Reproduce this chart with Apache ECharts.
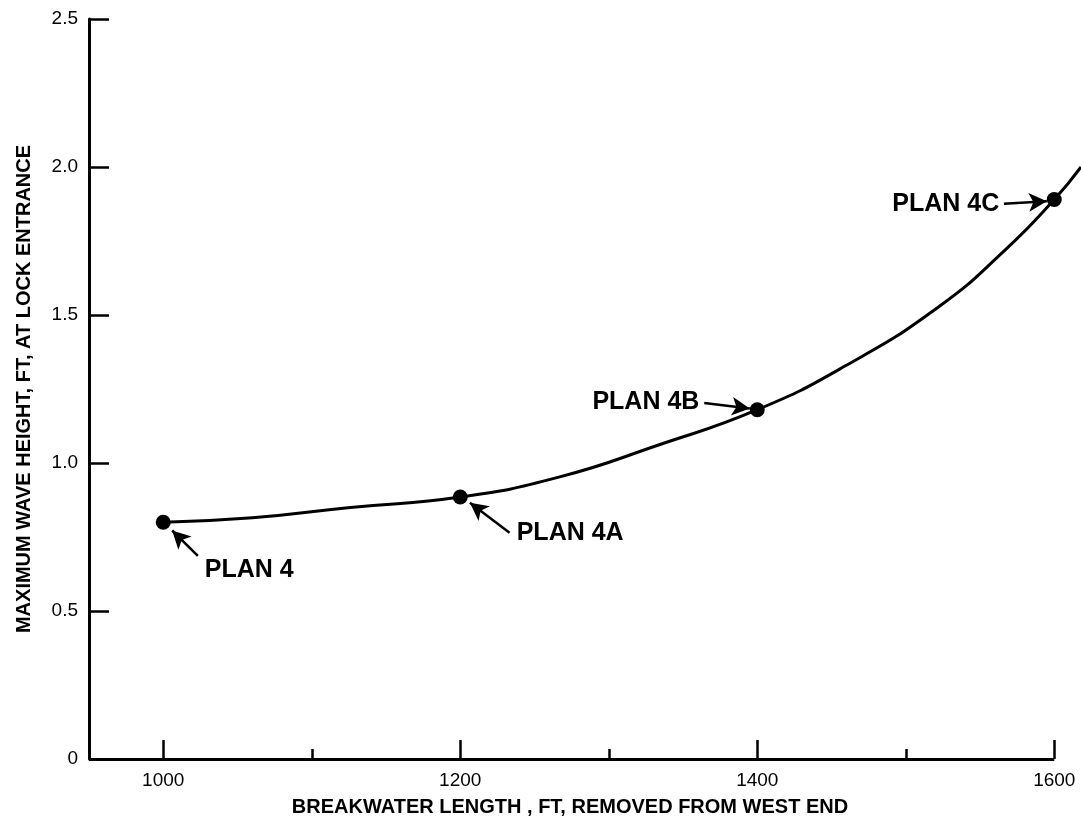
<!DOCTYPE html>
<html>
<head>
<meta charset="utf-8">
<script src="https://cdn.jsdelivr.net/npm/echarts@6/dist/echarts.min.js"></script>
<style>
  html, body { margin: 0; padding: 0; background: #fff; }
  #chart { width: 1081px; height: 826px; }
</style>
</head>
<body>
<div id="chart"></div>
<script>
// curve (breakwater length ft, wave height ft)
const curveX = [1000, 1060, 1126, 1200, 1267, 1333, 1400, 1460, 1522, 1567, 1600, 1618]
const curveY = [0.80, 0.815, 0.85, 0.885, 0.953, 1.06, 1.18, 1.33, 1.527, 1.72, 1.89, 2.0]

// tested plans
const planNames = ['PLAN 4', 'PLAN 4A', 'PLAN 4B', 'PLAN 4C']
const planX = [1000, 1200, 1400, 1600]
const planY = [0.80, 0.885, 1.18, 1.89]

// tick labels
const xMajorTicks = [1000, 1200, 1400, 1600]
const xMinorTicks = [1100, 1300, 1500]
const yTicks = [0, 0.5, 1.0, 1.5, 2.0, 2.5]

// annotation text anchor and arrow (tail -> head), in data units
const annotations = [
  { text: 'PLAN 4', at: [1028, 0.639], side: 'right', tail: [1023.3, 0.686], head: [1006, 0.772] },
  { text: 'PLAN 4A', at: [1238, 0.764], side: 'right', tail: [1233.2, 0.764], head: [1206.5, 0.866] },
  { text: 'PLAN 4B', at: [1361, 1.206], side: 'left', tail: [1364.3, 1.203], head: [1395, 1.184] },
  { text: 'PLAN 4C', at: [1563, 1.874], side: 'left', tail: [1566.1, 1.876], head: [1595, 1.884] }
]

const FONT = '"Liberation Sans", Arial, Helvetica, sans-serif'

const chart = echarts.init(document.getElementById('chart'), null, { renderer: 'canvas' })

const curveData = curveX.map((x, i) => [x, curveY[i]])
const planData = planX.map((x, i) => ({ name: planNames[i], value: [x, planY[i]] }))

const option = {
  backgroundColor: '#fff',
  animation: false,
  grid: {
    left: 89,
    right: 0,
    top: 19,
    bottom: 67,
    containLabel: false,
    outerBoundsMode: 'none'
  },
  xAxis: [
    {
      type: 'value',
      min: 950,
      max: 1618,
      position: 'bottom',
      name: 'BREAKWATER LENGTH , FT, REMOVED FROM WEST END',
      nameLocation: 'middle',
      nameGap: 38,
      nameTextStyle: { fontFamily: FONT, fontSize: 20, fontWeight: 'bold', color: '#000', padding: [0, 0, 0, -30] },
      // the printed axis stops at 1600, drawn below as a markLine
      axisLine: { show: false },
      axisTick: { show: true, inside: true, length: 19, customValues: xMajorTicks, lineStyle: { color: '#000', width: 2.5 } },
      axisLabel: {
        show: true,
        customValues: xMajorTicks,
        margin: 12,
        fontFamily: FONT,
        fontSize: 19,
        color: '#000',
        formatter: v => String(v)
      },
      splitLine: { show: false }
    },
    {
      type: 'value',
      min: 950,
      max: 1618,
      position: 'bottom',
      axisLine: { show: false },
      axisTick: { show: true, inside: true, length: 10, customValues: xMinorTicks, lineStyle: { color: '#000', width: 2.5 } },
      axisLabel: { show: false },
      splitLine: { show: false }
    }
  ],
  yAxis: {
    type: 'value',
    min: 0,
    max: 2.5,
    interval: 0.5,
    name: 'MAXIMUM WAVE HEIGHT, FT, AT LOCK ENTRANCE',
    nameLocation: 'middle',
    nameGap: 55,
    nameTextStyle: { fontFamily: FONT, fontSize: 20, fontWeight: 'bold', color: '#000' },
    axisLine: { show: true, onZero: false, lineStyle: { color: '#000', width: 3 } },
    axisTick: { show: true, inside: true, length: 20, customValues: yTicks, lineStyle: { color: '#000', width: 2.5 } },
    axisLabel: {
      margin: 11,
      fontFamily: FONT,
      fontSize: 19,
      color: '#000',
      formatter: v => (v === 0 ? '0' : v.toFixed(1))
    },
    splitLine: { show: false }
  },
  series: [
    {
      type: 'line',
      xAxisIndex: 0,
      data: curveData,
      smooth: 0.5,
      showSymbol: false,
      symbol: 'none',
      clip: false,
      lineStyle: { color: '#000', width: 3 },
      markLine: {
        silent: true,
        symbol: ['none', 'arrow'],
        symbolSize: [14, 18],
        label: { show: false },
        lineStyle: { color: '#000', width: 2.5, type: 'solid' },
        data: annotations.map(a => [
          { coord: a.tail },
          { coord: a.head }
        ]).concat([[
          { coord: [950, 0], symbol: 'none', lineStyle: { width: 3 } },
          { coord: [1600, 0], symbol: 'none' }
        ]])
      },
      markPoint: {
        silent: true,
        symbol: 'circle',
        symbolSize: 0,
        data: annotations.map(a => ({
          coord: a.at,
          label: {
            show: true,
            formatter: a.text,
            position: a.side,
            distance: 0,
            fontFamily: FONT,
            fontSize: 25,
            fontWeight: 'bold',
            color: '#000'
          }
        }))
      }
    },
    {
      type: 'scatter',
      xAxisIndex: 0,
      data: planData,
      symbol: 'circle',
      symbolSize: 15,
      clip: false,
      itemStyle: { color: '#000', opacity: 1 }
    }
  ]
}

chart.setOption(option)
</script>
</body>
</html>
